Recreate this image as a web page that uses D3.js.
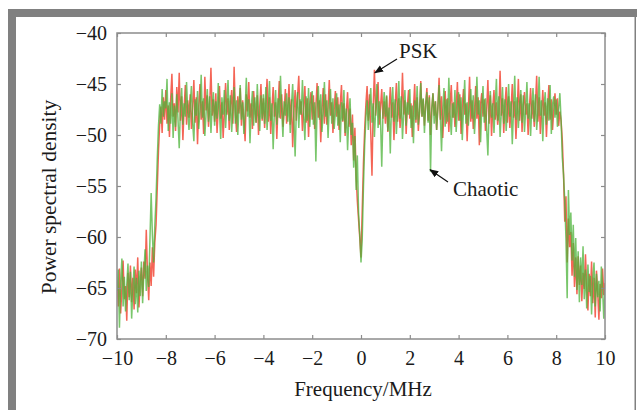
<!DOCTYPE html>
<html><head><meta charset="utf-8">
<script src="https://cdn.jsdelivr.net/npm/d3@7/dist/d3.min.js"></script>
<style>body{margin:0;background:#fff}svg{display:block}svg text{font-family:"Liberation Serif","Times New Roman",serif !important;fill:#1a1a1a}</style>
</head><body><svg id="c" width="637" height="410"></svg>
<script>
// Frequency grid (MHz), -10 .. 10 in 0.05 steps
const freqStart = -10, freqStep = 0.05, freqCount = 401;
const xTicks = [-10,-8,-6,-4,-2,0,2,4,6,8,10];
const yTicks = [-70,-65,-60,-55,-50,-45,-40];
const psk = [
-64.2,-66.8,-63.1,-67.5,-65.0,-62.3,-66.1,-64.8,-68.2,-63.5,-65.9,-62.8,-66.4,-64.0,-67.1,-63.2,-65.5,-62.0,-66.9,-64.4,
-63.0,-65.8,-62.4,-64.1,-59.3,-63.6,-66.2,-62.5,-64.8,-61.0,-63.9,-60.5,-58.8,-55.2,-51.6,-48.9,-47.2,-49.8,-46.3,-48.5,
-45.6,-48.9,-47.1,-50.2,-46.4,-44.0,-48.2,-46.9,-49.6,-45.3,-47.8,-43.9,-48.6,-46.2,-50.5,-47.4,-45.1,-49.0,-46.6,-48.3,
-46.0,-49.4,-47.5,-44.6,-48.8,-46.3,-50.9,-47.2,-45.0,-48.5,-46.7,-49.9,-44.3,-47.6,-46.1,-49.2,-47.0,-43.4,-48.1,-46.5,
-48.7,-45.9,-49.8,-47.3,-45.2,-48.4,-46.8,-50.3,-47.7,-44.9,-48.0,-46.4,-49.5,-47.1,-45.6,-48.9,-43.3,-47.8,-49.7,-46.2,
-47.9,-45.4,-49.1,-46.6,-48.5,-50.6,-46.0,-47.7,-44.8,-48.3,-46.9,-49.4,-45.7,-47.4,-48.8,-46.1,-50.0,-47.2,-45.0,-48.6,
-46.4,-49.3,-47.0,-44.5,-48.7,-46.3,-49.9,-47.5,-45.3,-48.2,-46.8,-50.4,-47.1,-44.7,-48.4,-46.0,-49.2,-47.6,-45.5,-48.9,
-47.3,-45.0,-49.0,-46.5,-51.2,-47.8,-45.6,-48.6,-46.2,-44.2,-48.0,-46.7,-49.6,-47.4,-45.2,-48.8,-46.4,-50.2,-47.0,-45.8,
-48.5,-46.1,-49.4,-47.2,-44.9,-48.3,-46.6,-50.7,-47.6,-45.4,-48.9,-46.0,-49.0,-47.3,-44.6,-48.1,-46.8,-49.8,-47.5,-45.7,
-48.2,-46.3,-49.5,-47.0,-45.1,-48.7,-46.9,-50.1,-47.7,-45.8,-49.2,-47.4,-51.0,-48.0,-52.5,-49.3,-54.0,-56.5,-58.3,-60.1,
-62.0,-57.4,-52.8,-49.5,-47.0,-45.2,-48.6,-46.0,-49.8,-54.0,-47.3,-43.6,-48.1,-46.5,-44.8,-49.0,-47.2,-45.5,-48.4,-46.7,
-48.9,-46.2,-49.7,-47.5,-45.3,-48.3,-46.8,-50.5,-47.1,-44.9,-48.7,-46.4,-49.3,-47.8,-43.9,-48.0,-46.6,-49.9,-47.2,-45.6,
-48.4,-46.9,-50.2,-47.4,-45.0,-48.8,-46.3,-49.6,-47.7,-44.7,-48.2,-46.5,-49.1,-47.0,-45.4,-48.6,-46.1,-50.0,-47.6,-45.9,
-48.1,-46.7,-49.5,-47.3,-44.4,-48.5,-46.2,-50.3,-47.9,-45.7,-48.9,-46.4,-49.7,-47.1,-45.1,-48.3,-46.8,-49.2,-47.5,-44.8,
-48.6,-46.0,-49.9,-47.2,-45.5,-48.0,-46.9,-50.6,-47.4,-44.3,-48.7,-46.6,-49.4,-47.8,-45.2,-48.4,-46.3,-51.0,-47.0,-45.9,
-48.2,-46.5,-49.6,-47.6,-44.6,-48.9,-46.1,-50.1,-47.3,-45.6,-48.5,-46.8,-49.0,-47.9,-43.7,-48.1,-46.4,-49.8,-47.1,-45.3,
-48.8,-46.2,-49.3,-47.5,-45.0,-48.3,-46.7,-50.4,-47.7,-44.5,-48.6,-46.0,-49.7,-47.2,-45.8,-48.0,-46.9,-50.0,-47.4,-45.4,
-48.4,-46.6,-49.2,-47.0,-44.2,-48.7,-46.3,-49.9,-47.8,-45.6,-48.1,-46.8,-50.2,-47.3,-45.1,-48.5,-46.5,-49.5,-47.6,-45.9,
-48.0,-46.4,-49.1,-47.7,-48.6,-50.5,-53.8,-58.5,-56.0,-62.5,-58.2,-61.0,-59.5,-63.8,-60.6,-64.9,-62.0,-65.6,-61.9,-64.7,
-62.8,-66.3,-63.5,-65.1,-61.7,-64.9,-67.2,-63.6,-65.8,-62.4,-66.5,-64.0,-67.9,-63.3,-65.4,-68.1,-64.6,-66.0,-63.1,-65.7,
-64.5];
const chaotic = [
-65.3,-63.2,-68.9,-64.5,-62.1,-66.8,-63.9,-67.3,-64.7,-62.6,-66.2,-63.4,-68.0,-65.1,-62.9,-66.6,-64.0,-67.4,-63.3,-65.8,
-62.4,-66.5,-63.6,-61.2,-65.3,-62.8,-64.9,-60.3,-55.7,-59.8,-62.5,-58.9,-56.2,-52.4,-49.1,-47.0,-48.9,-45.5,-48.2,-46.7,
-47.4,-44.5,-49.6,-46.8,-48.9,-45.9,-50.3,-47.1,-49.2,-46.0,-48.5,-51.3,-47.3,-45.4,-49.0,-46.9,-48.2,-44.8,-47.7,-49.5,
-47.0,-45.2,-48.8,-50.6,-46.5,-48.1,-45.7,-49.4,-47.6,-44.1,-48.3,-46.4,-50.1,-47.9,-45.5,-48.7,-46.2,-49.8,-47.3,-45.8,
-49.1,-46.7,-48.4,-44.9,-47.8,-50.4,-46.3,-48.0,-45.6,-49.3,-47.1,-44.6,-48.6,-46.1,-49.7,-47.5,-45.3,-48.9,-46.6,-50.0,
-47.2,-45.1,-48.5,-46.8,-49.9,-47.6,-44.4,-48.2,-46.5,-50.8,-47.4,-45.7,-49.1,-46.3,-48.8,-45.0,-47.9,-49.6,-46.1,-48.4,
-46.0,-48.9,-45.3,-49.5,-47.3,-44.7,-48.6,-46.9,-51.4,-47.8,-45.6,-49.0,-46.4,-48.3,-44.2,-47.5,-50.2,-46.7,-48.1,-45.9,
-48.7,-46.3,-49.8,-47.1,-45.0,-48.4,-52.1,-47.6,-45.8,-49.3,-46.5,-48.0,-44.6,-47.9,-50.5,-46.2,-48.6,-45.4,-49.2,-47.0,
-45.7,-49.0,-46.8,-52.6,-47.4,-45.2,-48.5,-46.0,-49.7,-47.7,-44.8,-48.2,-46.6,-50.3,-47.2,-45.5,-48.9,-46.4,-49.4,-47.8,
-45.9,-49.1,-47.0,-50.7,-46.8,-48.6,-45.6,-49.8,-47.4,-51.5,-48.3,-46.4,-50.0,-48.8,-53.2,-50.1,-55.4,-52.0,-57.6,-59.8,
-62.5,-60.2,-55.1,-51.0,-48.3,-46.6,-49.5,-47.2,-45.4,-48.8,-46.9,-50.2,-47.6,-45.0,-49.3,-46.7,-48.5,-53.1,-47.9,-45.8,
-48.2,-46.1,-49.6,-47.3,-51.8,-47.0,-45.3,-48.7,-46.5,-49.9,-47.5,-44.7,-48.4,-46.2,-50.4,-47.8,-45.6,-49.1,-46.8,-48.0,
-45.5,-49.3,-47.1,-50.8,-46.6,-48.5,-45.2,-49.0,-47.7,-44.9,-48.2,-46.4,-49.8,-47.0,-45.8,-48.8,-46.3,-53.6,-47.4,-45.9,
-48.9,-46.7,-49.5,-47.3,-45.1,-48.1,-51.6,-47.6,-45.4,-49.2,-46.5,-48.7,-44.4,-47.9,-50.0,-46.9,-48.3,-45.6,-49.7,-47.4,
-45.8,-48.6,-46.3,-50.5,-47.5,-44.6,-48.9,-46.8,-49.1,-47.2,-45.5,-48.4,-46.1,-49.9,-47.7,-44.3,-48.0,-46.6,-50.7,-47.3,
-45.2,-48.8,-46.4,-49.4,-52.0,-47.5,-45.7,-48.3,-46.9,-49.8,-47.1,-44.5,-48.6,-46.2,-50.2,-47.8,-45.3,-48.9,-46.5,-49.6,
-47.4,-45.0,-48.2,-46.7,-50.9,-47.6,-44.2,-48.5,-46.3,-49.3,-47.0,-45.6,-48.8,-46.1,-49.7,-47.5,-44.8,-48.4,-46.9,-50.1,
-47.2,-45.4,-48.7,-46.0,-49.5,-47.7,-44.3,-48.1,-46.6,-50.6,-47.3,-45.8,-49.0,-46.4,-48.6,-45.1,-49.9,-47.0,-46.2,-48.3,
-46.5,-49.2,-47.4,-45.9,-48.5,-52.2,-53.9,-56.4,-60.2,-66.0,-55.4,-59.8,-57.6,-62.3,-58.8,-63.9,-60.1,-65.2,-61.4,-66.4,
-62.0,-64.7,-60.9,-66.1,-63.2,-67.0,-62.7,-65.4,-63.8,-67.6,-64.1,-62.5,-66.8,-63.6,-65.9,-64.3,-67.3,-62.9,-65.0,-68.0,
-65.2];
const seriesNames = ["PSK","Chaotic"];

const svg = d3.select("#c");
const frameColor = "#808080";
// outer frame
svg.append("rect").attr("x",8).attr("y",9).attr("width",629).attr("height",8).attr("fill",frameColor);
svg.append("rect").attr("x",8).attr("y",9).attr("width",8).attr("height",401).attr("fill",frameColor);
svg.append("rect").attr("x",634.5).attr("y",9).attr("width",1.5).attr("height",401).attr("fill",frameColor);

const L=117,R=605,T=33,B=339;
const x = d3.scaleLinear().domain([-10,10]).range([L,R]);
const y = d3.scaleLinear().domain([-70,-40]).range([B,T]);
const freq = i => freqStart + i*freqStep;

svg.append("clipPath").attr("id","pc").append("rect").attr("x",L).attr("y",T).attr("width",R-L).attr("height",B-T);
const line = d3.line().x((d,i)=>x(freq(i))).y(d=>y(d));
const plot = svg.append("g").attr("clip-path","url(#pc)");
plot.append("path").datum(psk).attr("d",line).attr("fill","none").attr("stroke","#f0321e").attr("stroke-width",1.5).attr("stroke-opacity",0.75);
plot.append("path").datum(chaotic).attr("d",line).attr("fill","none").attr("stroke","#4cb33a").attr("stroke-width",1.5).attr("stroke-opacity",0.75);

const axisColor = "#8c8c8c";
const fmt = d3.format("");
const serif = '"Liberation Serif","Times New Roman",serif';
function styleAxis(g, labels){
  g.attr("font-family", null).style("font-family", serif);
  g.select(".domain").remove();
  g.selectAll(".tick line").attr("stroke",axisColor).attr("stroke-width",1.2);
  g.selectAll(".tick text").attr("font-size",20).attr("fill","#1a1a1a").style("font-family", serif);
  if(!labels) g.selectAll(".tick text").remove();
}
const gx = svg.append("g").attr("transform",`translate(0,${B})`).call(d3.axisBottom(x).tickValues(xTicks).tickSizeInner(-4).tickSizeOuter(0).tickPadding(12).tickFormat(fmt));
styleAxis(gx,true);
const gxt = svg.append("g").attr("transform",`translate(0,${T})`).call(d3.axisTop(x).tickValues(xTicks).tickSizeInner(-4).tickSizeOuter(0));
styleAxis(gxt,false);
const gy = svg.append("g").attr("transform",`translate(${L},0)`).call(d3.axisLeft(y).tickValues(yTicks).tickSizeInner(-4).tickSizeOuter(0).tickPadding(10).tickFormat(fmt));
styleAxis(gy,true);
const gyr = svg.append("g").attr("transform",`translate(${R},0)`).call(d3.axisRight(y).tickValues(yTicks).tickSizeInner(-4).tickSizeOuter(0));
styleAxis(gyr,false);
svg.append("rect").attr("x",L).attr("y",T).attr("width",R-L).attr("height",B-T).attr("fill","none").attr("stroke",axisColor).attr("stroke-width",1.5);

svg.append("text").attr("x",363).attr("y",396).attr("text-anchor","middle").attr("font-size",21).text("Frequency/MHz");
svg.append("text").attr("transform","translate(56,197) rotate(-90)").attr("text-anchor","middle").attr("font-size",21.5).text("Power spectral density");

// annotations
svg.append("defs").append("marker").attr("id","ah").attr("viewBox","0 0 10 10").attr("refX",9).attr("refY",5)
  .attr("markerWidth",9).attr("markerHeight",9).attr("markerUnits","userSpaceOnUse").attr("orient","auto")
  .append("path").attr("d","M0,1 L10,5 L0,9 Z").attr("fill","#111");
function annot(label, fx, fy, tx, ty, lx, ly){
  svg.append("line").attr("x1",tx).attr("y1",ty).attr("x2",x(fx)).attr("y2",y(fy)).attr("stroke","#111").attr("stroke-width",1.2).attr("marker-end","url(#ah)");
  svg.append("text").attr("x",lx).attr("y",ly).attr("font-size",21).text(label);
}
annot(seriesNames[0], 0.57, -43.9, 397, 59, 399, 58);
annot(seriesNames[1], 2.83, -53.4, 448, 182, 453, 196);
</script></body></html>
